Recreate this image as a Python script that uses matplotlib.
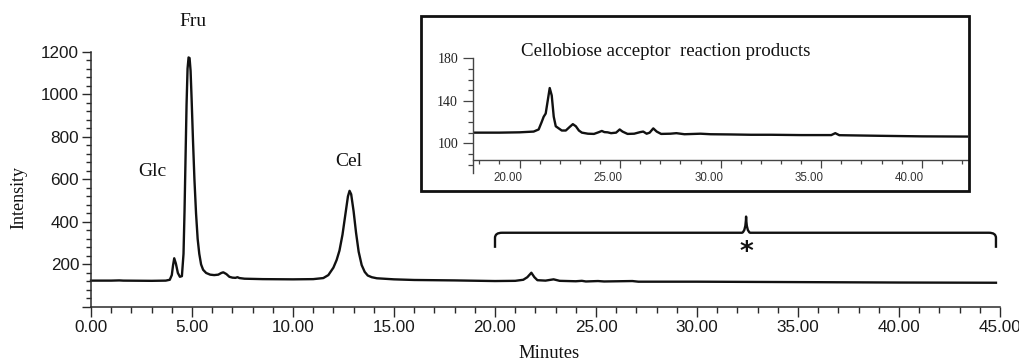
import matplotlib
matplotlib.use("Agg")
import matplotlib.pyplot as plt
import matplotlib.transforms as mtransforms
from matplotlib.path import Path
from matplotlib.patches import PathPatch, Rectangle
from matplotlib.ticker import MultipleLocator, FixedLocator, FuncFormatter

# ---------------- data ----------------
main_time = [0.0, 1.0, 1.4, 1.6, 3.0, 3.7, 3.9, 4.0, 4.06, 4.12, 4.2, 4.3, 4.4, 4.5,
             4.58, 4.63, 4.68, 4.73, 4.78, 4.83, 4.88, 4.93, 4.98, 5.05, 5.12, 5.2,
             5.28, 5.36, 5.45, 5.55, 5.7, 5.9, 6.1, 6.3, 6.45, 6.55, 6.7, 6.85, 7.0,
             7.15, 7.25, 7.35, 7.6, 8.5, 10.0, 11.0, 11.5, 11.75, 12.0, 12.16, 12.3,
             12.45, 12.6, 12.72, 12.8, 12.88, 13.0, 13.12, 13.25, 13.4, 13.55, 13.7,
             13.9, 14.15, 15.0, 16.0, 18.0, 20.0, 21.0, 21.4, 21.6, 21.8, 21.95, 22.1,
             22.5, 22.9, 23.2, 24.0, 24.3, 24.5, 25.1, 25.4, 26.8, 27.1, 30.0, 35.0,
             40.0, 44.8]
main_intensity = [124, 124, 125, 124, 123, 124, 128, 150, 195, 229, 205, 160, 142, 145,
                  250, 450, 700, 950, 1120, 1173, 1170, 1110, 980, 780, 600, 440,
                  320, 250, 200, 175, 160, 152, 150, 152, 160, 163, 155, 142, 138,
                  137, 140, 136, 133, 131, 130, 131, 136, 150, 185, 221, 265,
                  340, 440, 520, 546, 530, 450, 350, 260, 197, 165, 148,
                  140, 135, 130, 127, 125, 122, 123, 128, 140, 161, 140, 126,
                  124, 130, 123, 121, 123, 120, 122, 120, 122, 119, 119, 117,
                  115, 114]

inset_time = [17.7, 19.0, 20.0, 20.7, 20.95, 21.1, 21.2, 21.3, 21.4, 21.5, 21.6, 21.7,
              21.8, 21.95, 22.1, 22.3, 22.5, 22.65, 22.8, 22.95, 23.1, 23.4, 23.7,
              23.95, 24.09, 24.22, 24.38, 24.55, 24.8, 24.98, 25.12, 25.37, 25.7,
              26.0, 26.15, 26.32, 26.47, 26.65, 26.82, 27.04, 27.5, 27.8, 28.2, 29.0,
              29.5, 30.5, 31.5, 32.5, 34.0, 35.5, 35.7, 35.9, 38.0, 40.0, 42.3]
inset_intensity = [110, 110, 110.3, 111, 113, 120, 125, 128, 140, 152, 145, 125,
                   116, 114, 112, 112, 115.5, 118, 116, 112, 110, 109, 108.8,
                   110.5, 111.6, 110.5, 110.3, 109.5, 110, 113, 111, 108.8, 109,
                   110.5, 111, 109, 110, 114, 111, 108.8, 109, 109.5, 108.5, 109,
                   108.5, 108.3, 108, 108, 107.7, 107.7, 109.5, 107.6, 107, 106.5, 106.3]

peak_labels = ["Glc", "Fru", "Cel"]
peak_label_x = [3.02, 5.05, 12.77]
peak_label_y = [635, 1340, 682]

main_xticks = [0, 5, 10, 15, 20, 25, 30, 35, 40, 45]
main_xticklabels = ["0.00", "5.00", "10.00", "15.00", "20.00", "25.00", "30.00",
                    "35.00", "40.00", "45.00"]
main_yticks = [0, 200, 400, 600, 800, 1000, 1200]
inset_xticks = [20, 25, 30, 35, 40]
inset_xticklabels = ["20.00", "25.00", "30.00", "35.00", "40.00"]
inset_yticks = [100, 140, 180]

bracket_start, bracket_end, bracket_peak = 20.0, 44.8, 32.43

# ---------------- figure ----------------
W, H = 1020, 363
fig = plt.figure(figsize=(W / 100, H / 100), dpi=100)
axc = "#2a2a2a"
SANS = "Liberation Sans"
SERIF = "Liberation Serif"

def fx(px):
    return px / W

def fy(py):
    return 1 - py / H

# main axes: x 0->45 at px 91->1000, y 0->1200 at py 307->51.7
ax = fig.add_axes([fx(91), fy(307), fx(1000) - fx(91), fy(51.7) - fy(307)])
ax.set_facecolor("none")
ax.plot(main_time, main_intensity, color="#111111", lw=1.7, solid_joinstyle="round",
        clip_on=False)
ax.set_xlim(0, 45)
ax.set_ylim(0, 1200)
for s in ("top", "right"):
    ax.spines[s].set_visible(False)
for s in ("left", "bottom"):
    ax.spines[s].set_color(axc)
    ax.spines[s].set_linewidth(1.1)
ax.xaxis.set_major_locator(FixedLocator(main_xticks))
ax.set_xticklabels(main_xticklabels)
ax.xaxis.set_minor_locator(MultipleLocator(1))
ax.yaxis.set_major_locator(FixedLocator(main_yticks))
ax.yaxis.set_major_formatter(FuncFormatter(lambda v, p: "" if v == 0 else f"{v:.0f}"))
ax.yaxis.set_minor_locator(MultipleLocator(40))
ax.tick_params(axis="x", which="major", length=7, width=1.0, color=axc, pad=2.5,
               labelsize=12.3, labelcolor="#1a1a1a", direction="out")
ax.tick_params(axis="x", which="minor", length=4, width=1.0, color=axc, direction="out")
ax.tick_params(axis="y", which="major", length=6.5, width=1.0, color=axc, pad=2,
               labelsize=12.3, labelcolor="#1a1a1a", direction="out")
ax.tick_params(axis="y", which="minor", length=3.5, width=1.0, color=axc, direction="out")
for lab in ax.get_xticklabels() + ax.get_yticklabels():
    lab.set_family(SANS)

for name, x, y in zip(peak_labels, peak_label_x, peak_label_y):
    ax.text(x, y, name, family=SERIF, fontsize=14, ha="center", va="center",
            color="#111111", clip_on=False)

# bracket over the 20-45 min region
yb, ye, yp = 349, 278, 425
verts = [(bracket_start, ye), (bracket_start, 325), (bracket_start, yb),
         (bracket_start + 0.35, yb), (bracket_peak - 0.2, yb),
         (bracket_peak - 0.02, yb + 5), (bracket_peak, yp),
         (bracket_peak + 0.02, yb + 5), (bracket_peak + 0.2, yb),
         (bracket_end - 0.35, yb), (bracket_end, yb), (bracket_end, 325), (bracket_end, ye)]
codes = [Path.MOVETO, Path.LINETO, Path.CURVE3, Path.CURVE3, Path.LINETO,
         Path.CURVE3, Path.CURVE3, Path.CURVE3, Path.CURVE3,
         Path.LINETO, Path.CURVE3, Path.CURVE3, Path.LINETO]
ax.add_patch(PathPatch(Path(verts, codes), fill=False, lw=1.7, edgecolor="#111111",
                       capstyle="butt", joinstyle="round", clip_on=False))
ax.text(bracket_peak, 252, "*", family="DejaVu Sans", fontsize=19, fontweight="bold",
        ha="center", va="center", color="#111111")

# axis titles
fig.text(fx(19), fy(198), "Intensity", family=SERIF, fontsize=13, rotation=90,
         ha="center", va="center", color="#111111")
fig.text(fx(549), fy(353), "Minutes", family=SERIF, fontsize=13.4,
         ha="center", va="center", color="#111111")

# ---------------- inset ----------------
fig.patches.append(Rectangle((fx(421), fy(191.5)), fx(969.5) - fx(421), fy(15.7) - fy(191.5),
                             transform=fig.transFigure, fill=False, lw=2.0,
                             edgecolor="#111111", zorder=3))
# inset axes: x 17.7->42.3 at px 473.3->968, y 72->180 at py 173->58.3
axi = fig.add_axes([fx(473.3), fy(173), fx(968) - fx(473.3), fy(58.3) - fy(173)])
axi.set_facecolor("none")
axi.plot(inset_time, inset_intensity, color="#111111", lw=1.7, solid_joinstyle="round")
axi.set_xlim(17.7, 42.3)
axi.set_ylim(72, 180)
for s in ("top", "right"):
    axi.spines[s].set_visible(False)
for s in ("left", "bottom"):
    axi.spines[s].set_color("#444444")
    axi.spines[s].set_linewidth(1.0)
axi.spines["bottom"].set_position(("data", 84))
axi.xaxis.set_major_locator(FixedLocator(inset_xticks))
axi.set_xticklabels(inset_xticklabels)
axi.xaxis.set_minor_locator(MultipleLocator(1))
axi.yaxis.set_major_locator(FixedLocator(inset_yticks))
axi.yaxis.set_minor_locator(MultipleLocator(10))
axi.tick_params(axis="x", which="major", length=6, width=0.9, color="#444444", pad=2.5,
                labelsize=8.3, labelcolor="#333333")
axi.tick_params(axis="x", which="minor", length=3.2, width=0.9, color="#444444")
axi.tick_params(axis="y", which="major", length=7, width=0.9, color="#444444", pad=4,
                labelsize=10, labelcolor="#222222")
axi.tick_params(axis="y", which="minor", length=3.6, width=0.9, color="#444444")
for lab in axi.get_xticklabels():
    lab.set_family(SANS)
for lab in axi.get_yticklabels():
    lab.set_family(SERIF)
off = mtransforms.ScaledTranslation(-12 / 100, 0, fig.dpi_scale_trans)
for lab in axi.get_xticklabels():
    lab.set_transform(lab.get_transform() + off)

fig.text(fx(520.6), fy(51.7), "Cellobiose acceptor  reaction products", family=SERIF,
         fontsize=13.6, ha="left", va="center", color="#111111")

fig.savefig("out.png", dpi=100)
